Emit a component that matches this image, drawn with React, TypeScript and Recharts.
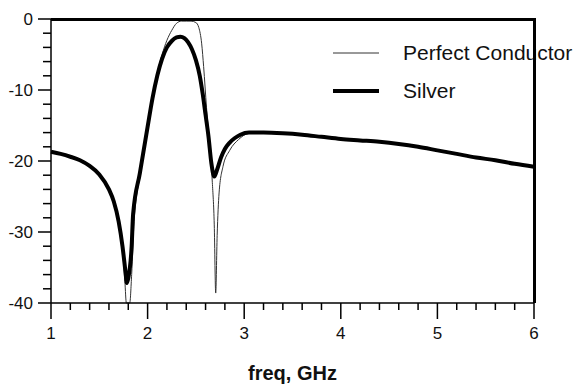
import { LineChart, Line, XAxis, YAxis, Legend } from "recharts";

const FONT = '"Liberation Sans", Arial, sans-serif';

// frequency (GHz) and response (dB)
const silverFreq = [
  1.0, 1.1, 1.2, 1.3, 1.4, 1.5, 1.6, 1.65, 1.7, 1.74, 1.77, 1.785, 1.8, 1.835, 1.85, 1.92, 2.0,
  2.05, 2.1, 2.15, 2.2, 2.25, 2.3, 2.34, 2.38, 2.42, 2.46, 2.5, 2.54, 2.57, 2.6, 2.63, 2.66,
  2.69, 2.72, 2.76, 2.8, 2.85, 2.9, 2.96, 3.05, 3.2, 3.4, 3.6, 3.8, 4.0, 4.2, 4.4, 4.6, 4.8,
  5.0, 5.2, 5.4, 5.6, 5.8, 6.0,
];
const silverDb = [
  -18.7, -19.0, -19.4, -19.9, -20.7, -21.9, -24.0, -25.7, -28.5, -32.0, -35.5, -37.2, -36.5,
  -32.0, -27.5, -21.7, -15.2, -11.2, -8.0, -5.6, -4.0, -3.1, -2.6, -2.5, -2.7, -3.3, -4.3,
  -5.8, -8.0, -10.5, -13.5, -16.5, -20.3, -22.2, -21.2, -19.5, -18.3, -17.4, -16.8, -16.3,
  -16.0, -16.0, -16.1, -16.3, -16.6, -16.9, -17.1, -17.3, -17.6, -18.0, -18.5, -19.0, -19.5,
  -19.9, -20.4, -20.8,
];

const pecFreq = [
  1.0, 1.2, 1.4, 1.5, 1.6, 1.65, 1.7, 1.74, 1.765, 1.78, 1.815, 1.835, 1.86, 1.93, 2.0, 2.05,
  2.1, 2.15, 2.2, 2.25, 2.3, 2.35, 2.4, 2.45, 2.5, 2.53, 2.56, 2.58, 2.61, 2.64, 2.67, 2.69,
  2.705, 2.72, 2.74, 2.78, 2.85, 2.94, 3.05, 3.2, 3.4, 3.6, 3.8, 4.0, 4.2, 4.4, 4.6, 4.8, 5.0,
  5.2, 5.4, 5.6, 5.8, 6.0,
];
const pecDb = [
  -18.7, -19.4, -20.7, -21.9, -24.0, -25.8, -28.8, -32.5, -37.0, -40.0, -40.0, -36.0, -28.5,
  -21.5, -15.3, -11.0, -7.6, -5.0, -3.0, -1.6, -0.6, -0.3, -0.3, -0.3, -0.5, -1.2, -3.5, -6.7,
  -12.5, -17.5, -23.0, -29.0, -38.6, -30.5, -24.5, -20.8, -18.5, -17.0, -16.1, -16.0, -16.1,
  -16.3, -16.6, -16.9, -17.1, -17.3, -17.6, -18.0, -18.5, -19.0, -19.5, -19.9, -20.4, -20.8,
];

const xTicks = [
  1, 1.2, 1.4, 1.6, 1.8, 2, 2.2, 2.4, 2.6, 2.8, 3, 3.2, 3.4, 3.6, 3.8, 4, 4.2, 4.4, 4.6, 4.8,
  5, 5.2, 5.4, 5.6, 5.8, 6,
];
const yTicks = [
  -40, -38, -36, -34, -32, -30, -28, -26, -24, -22, -20, -18, -16, -14, -12, -10, -8, -6, -4,
  -2, 0,
];

const silverData = silverFreq.map((f, i) => ({ freq: f, db: silverDb[i] }));
const pecData = pecFreq.map((f, i) => ({ freq: f, db: pecDb[i] }));

const MARGIN = { top: 19, right: 47, bottom: 0, left: 0 };
const W = 581;
const H = 387;
const Y_AXIS_W = 51;
const X_AXIS_H = 84;

function XTick(props: any) {
  const { x, y, payload } = props;
  const major = Number.isInteger(payload.value);
  return (
    <g>
      <line x1={x} y1={y} x2={x} y2={y + (major ? 16 : 7)} stroke="#000" strokeWidth={1.5} />
      {major && (
        <text x={x} y={y + 36} textAnchor="middle" fontSize={17} fontFamily={FONT} fill="#111">
          {payload.value}
        </text>
      )}
    </g>
  );
}

function YTick(props: any) {
  const { x, y, payload } = props;
  const major = payload.value % 10 === 0;
  return (
    <g>
      <line x1={x} y1={y} x2={x - (major ? 13 : 8)} y2={y} stroke="#000" strokeWidth={1.5} />
      {major && (
        <text x={x - 18} y={y + 6} textAnchor="end" fontSize={17} fontFamily={FONT} fill="#111">
          {payload.value}
        </text>
      )}
    </g>
  );
}

function LegendBox() {
  const items = [
    { name: "Perfect Conductor", width: 1, color: "#333" },
    { name: "Silver", width: 4, color: "#000" },
  ];
  return (
    <div style={{ fontFamily: FONT, fontSize: 21, color: "#111" }}>
      {items.map((it) => (
        <div key={it.name} style={{ display: "flex", alignItems: "center", height: 38, whiteSpace: "nowrap" }}>
          <svg width={46} height={10} style={{ marginRight: 24 }}>
            <line x1={0} y1={5} x2={46} y2={5} stroke={it.color} strokeWidth={it.width} />
          </svg>
          <span>{it.name}</span>
        </div>
      ))}
    </div>
  );
}

export default function App() {
  // plot box, from the chart margins and axis sizes
  const boxLeft = MARGIN.left + Y_AXIS_W;
  const boxTop = MARGIN.top;
  const boxW = W - MARGIN.right - boxLeft;
  const boxH = H - MARGIN.bottom - X_AXIS_H - boxTop;
  return (
    <div style={{ position: "absolute", left: 0, top: 0, width: W, height: H, background: "#fff" }}>
      <LineChart width={W} height={H} margin={MARGIN}>
        <XAxis
          type="number"
          dataKey="freq"
          domain={[1, 6]}
          ticks={xTicks}
          interval={0}
          height={X_AXIS_H}
          tickSize={0}
          tickMargin={0}
          tickLine={false}
          axisLine={{ stroke: "#000", strokeWidth: 1.5 }}
          tick={<XTick />}
          label={{
            value: "freq, GHz",
            position: "insideBottom",
            offset: 7,
            fontSize: 20,
            fontWeight: "bold",
            fontFamily: FONT,
            fill: "#111",
          }}
        />
        <YAxis
          type="number"
          domain={[-40, 0]}
          ticks={yTicks}
          interval={0}
          width={Y_AXIS_W}
          tickSize={0}
          tickMargin={0}
          tickLine={false}
          axisLine={{ stroke: "#000", strokeWidth: 1.5 }}
          tick={<YTick />}
        />
        <Line
          data={pecData}
          dataKey="db"
          type="monotone"
          stroke="#333"
          strokeWidth={1}
          dot={false}
          activeDot={false}
          isAnimationActive={false}
        />
        <Line
          data={silverData}
          dataKey="db"
          type="monotone"
          stroke="#000"
          strokeWidth={4}
          dot={false}
          activeDot={false}
          isAnimationActive={false}
        />
        <Legend
          layout="vertical"
          align="center"
          verticalAlign="middle"
          content={() => <LegendBox />}
          wrapperStyle={{ left: 333, top: 34, width: "auto" }}
        />
      </LineChart>
      {/* top and right edges of the frame */}
      <div
        style={{
          position: "absolute",
          left: boxLeft,
          top: boxTop - 1,
          width: boxW + 2,
          height: boxH + 1,
          borderTop: "3px solid #000",
          borderRight: "3px solid #000",
          boxSizing: "border-box",
          pointerEvents: "none",
        }}
      />
    </div>
  );
}
